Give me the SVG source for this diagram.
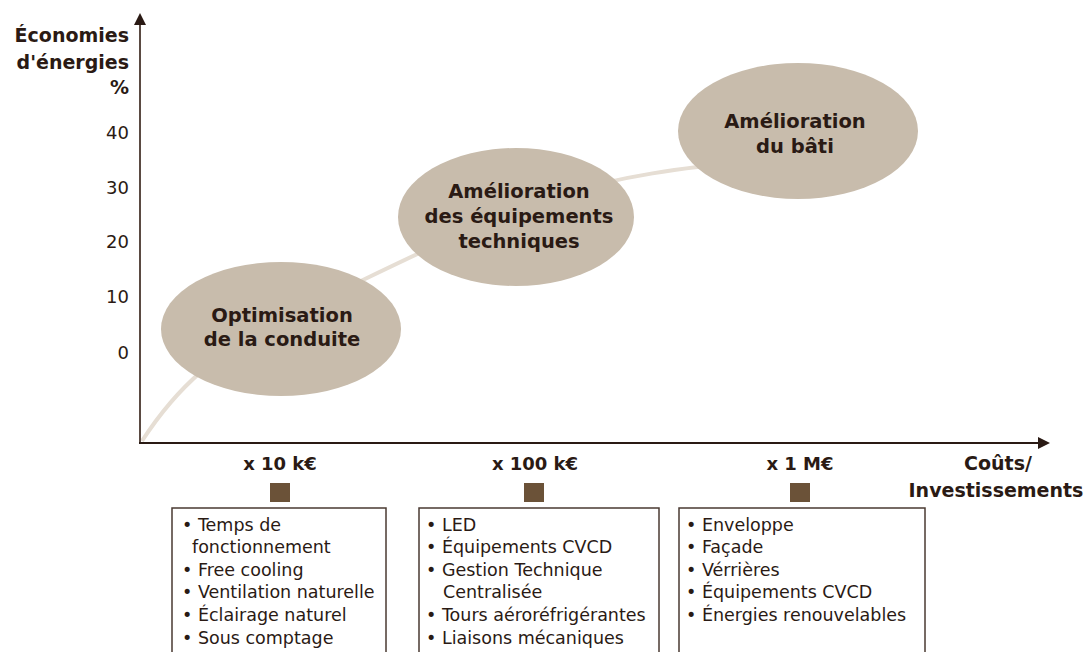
<svg xmlns="http://www.w3.org/2000/svg" width="1085" height="652" viewBox="0 0 1085 652">
<defs>
<marker id="arr" viewBox="0 0 12 12" refX="2" refY="6" markerWidth="12" markerHeight="12" markerUnits="userSpaceOnUse" orient="auto"><path d="M0,0 L12,6 L0,12 z" fill="#2a1a14"/></marker>
</defs>
<style>
text{font-family:"DejaVu Sans",Verdana,sans-serif;fill:#2a1a14}
.ax{font-size:19px;font-weight:bold}
.tick{font-size:18px}
.node{fill:#c8bcac}
.nl{font-size:19.5px;font-weight:bold;text-anchor:middle}
.cost{font-size:18px;font-weight:bold;text-anchor:middle}
.sq{fill:#6b5238}
.box{fill:none;stroke:#4a3a32;stroke-width:1.5}
.li{font-size:17.5px}
</style>
<rect width="1085" height="652" fill="#fff"/>
<g id="curve">
<path d="M142,441 C175,390 215,350 300,310 C390,268 470,225 560,195 C620,176 680,168 760,160" fill="none" stroke="#e6ded4" stroke-width="4"/>
</g>
<g id="connectors">
<line x1="140" y1="444" x2="140" y2="23" stroke="#5a4a42" stroke-width="2" marker-end="url(#arr)"/>
<line x1="139" y1="443" x2="1040" y2="443" stroke="#2a1a14" stroke-width="2" marker-end="url(#arr)"/>
</g>
<g id="yaxis-label">
<text class="ax" x="129" y="42" text-anchor="end">Économies</text>
<text class="ax" x="129" y="69" text-anchor="end">d'énergies</text>
<text class="ax" x="129" y="94" text-anchor="end">%</text>
</g>
<g id="ticks">
<text class="tick" x="129" y="139" text-anchor="end">40</text>
<text class="tick" x="129" y="194" text-anchor="end">30</text>
<text class="tick" x="129" y="248" text-anchor="end">20</text>
<text class="tick" x="129" y="303" text-anchor="end">10</text>
<text class="tick" x="129" y="359" text-anchor="end">0</text>
</g>
<g id="xaxis-label">
<text class="ax" x="998" y="470" text-anchor="middle">Coûts/</text>
<text class="ax" x="996" y="497" text-anchor="middle">Investissements</text>
</g>
<g id="node-optimisation">
<ellipse class="node" cx="281" cy="329" rx="120" ry="67"/>
<text class="nl" x="282" y="322">Optimisation</text>
<text class="nl" x="282" y="346">de la conduite</text>
</g>
<g id="node-equipements">
<ellipse class="node" cx="516" cy="217" rx="118" ry="69"/>
<text class="nl" x="519" y="198">Amélioration</text>
<text class="nl" x="519" y="223">des équipements</text>
<text class="nl" x="519" y="248">techniques</text>
</g>
<g id="node-bati">
<ellipse class="node" cx="798" cy="131" rx="120" ry="68"/>
<text class="nl" x="795" y="128">Amélioration</text>
<text class="nl" x="795" y="153">du bâti</text>
</g>
<g id="cost-10k">
<text class="cost" x="280" y="470">x 10 k€</text>
<rect class="sq" x="270" y="483" width="20" height="19"/>
<rect class="box" x="172" y="508" width="214" height="160"/>
<text class="li" x="182" y="531">• Temps de</text>
<text class="li" x="192" y="553">fonctionnement</text>
<text class="li" x="182" y="576">• Free cooling</text>
<text class="li" x="182" y="598">• Ventilation naturelle</text>
<text class="li" x="182" y="621">• Éclairage naturel</text>
<text class="li" x="182" y="644">• Sous comptage</text>
</g>
<g id="cost-100k">
<text class="cost" x="535" y="470">x 100 k€</text>
<rect class="sq" x="524" y="483" width="20" height="19"/>
<rect class="box" x="419" y="508" width="240" height="160"/>
<text class="li" x="426" y="531">• LED</text>
<text class="li" x="426" y="553">• Équipements CVCD</text>
<text class="li" x="426" y="576">• Gestion Technique</text>
<text class="li" x="443" y="598">Centralisée</text>
<text class="li" x="426" y="621">• Tours aéroréfrigérantes</text>
<text class="li" x="426" y="644">• Liaisons mécaniques</text>
</g>
<g id="cost-1M">
<text class="cost" x="800" y="470">x 1 M€</text>
<rect class="sq" x="790" y="483" width="20" height="19"/>
<rect class="box" x="679" y="508" width="246" height="160"/>
<text class="li" x="686" y="531">• Enveloppe</text>
<text class="li" x="686" y="553">• Façade</text>
<text class="li" x="686" y="576">• Vérrières</text>
<text class="li" x="686" y="598">• Équipements CVCD</text>
<text class="li" x="686" y="621">• Énergies renouvelables</text>
</g>
</svg>
